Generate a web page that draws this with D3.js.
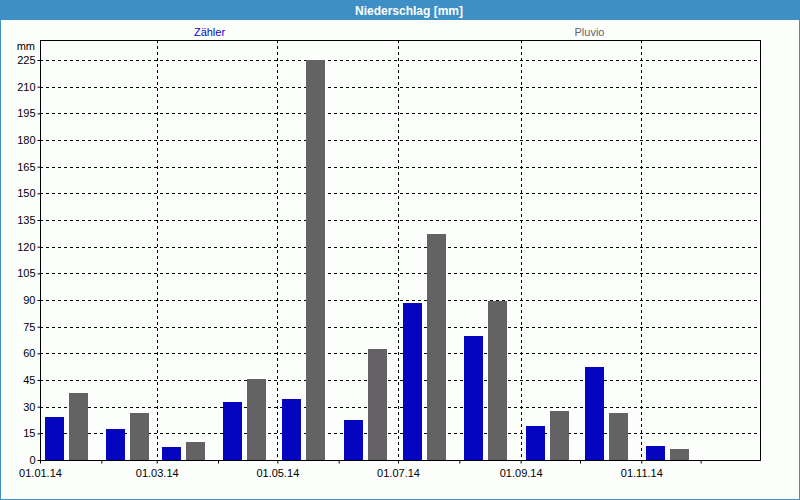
<!DOCTYPE html>
<html><head><meta charset="utf-8">
<script src="https://cdn.jsdelivr.net/npm/d3@7"></script>
<style>
html,body{margin:0;padding:0;background:#fcfefc;}
svg{display:block;}
text{font-family:"Liberation Sans",Arial,sans-serif;font-size:11px;}
</style></head>
<body>
<svg id="chart" width="800" height="500"></svg>
<script>
const months = ["2014-01-01","2014-02-01","2014-03-01","2014-04-01","2014-05-01","2014-06-01","2014-07-01","2014-08-01","2014-09-01","2014-10-01","2014-11-01","2014-12-01"];
const zaehler = [24.2, 17.4, 7.3, 32.6, 34.3, 22.5, 88.2, 69.7, 19.1, 52.2, 7.9, null];
const pluvio  = [37.6, 26.4, 10.1, 45.5, 225, 62.4, 127, 89.3, 27.5, 26.4, 6.2, null];
const yTicks = [0,15,30,45,60,75,90,105,120,135,150,165,180,195,210,225];
const xLabelDates = ["2014-01-01","2014-03-01","2014-05-01","2014-07-01","2014-09-01","2014-11-01"];
const seriesNames = ["Zähler","Pluvio"];
const colors = ["#0505c0","#646264"];

const parse = d3.utcParse("%Y-%m-%d");
const fmt = d3.utcFormat("%d.%m.%y");
const svg = d3.select("#chart");
const W=800,H=500;
const L=40,R=760,T=40,B=460;

// window frame + title bar
svg.append("rect").attr("x",0).attr("y",0).attr("width",W).attr("height",H).attr("fill","#fcfefc");
svg.append("rect").attr("x",0.5).attr("y",0.5).attr("width",W-1).attr("height",H-1).attr("fill","none").attr("stroke","#3d8fc5");
svg.append("rect").attr("x",0).attr("y",0).attr("width",W).attr("height",20).attr("fill","#3d8fc5");
svg.append("text").attr("x",409).attr("y",15).attr("text-anchor","middle").attr("fill","#fff")
  .style("font-weight","bold").style("font-size","12px").text("Niederschlag [mm]");

const x = d3.scaleUtc().domain([parse("2014-01-01"), parse("2014-12-31")]).range([L,R]);
const y = d3.scaleLinear().domain([0,236.25]).range([B,T]);

// horizontal grid
svg.append("g").selectAll("line").data(yTicks.filter(v=>v>0)).join("line")
  .attr("x1",L).attr("x2",R).attr("y1",d=>Math.round(y(d))+0.5).attr("y2",d=>Math.round(y(d))+0.5)
  .attr("stroke","#000").attr("stroke-dasharray","3,3");
// vertical grid
svg.append("g").selectAll("line").data(xLabelDates.slice(1).map(parse)).join("line")
  .attr("x1",d=>Math.round(x(d))+0.5).attr("x2",d=>Math.round(x(d))+0.5).attr("y1",T).attr("y2",B)
  .attr("stroke","#000").attr("stroke-dasharray","3,3");

// bars
const bw=19, off=5, gap=5;
[zaehler,pluvio].forEach((arr,si)=>{
  svg.append("g").selectAll("rect").data(arr.map((v,i)=>({v,d:parse(months[i])})).filter(o=>o.v!=null)).join("rect")
    .attr("x",o=>Math.round(x(o.d))+off+si*(bw+gap))
    .attr("width",bw)
    .attr("y",o=>Math.round(y(o.v)))
    .attr("height",o=>B-Math.round(y(o.v)))
    .attr("fill",colors[si]);
});

// plot border
svg.append("rect").attr("x",L+0.5).attr("y",T+0.5).attr("width",R-L).attr("height",B-T)
  .attr("fill","none").attr("stroke","#000");

// y axis labels
const yAxis = d3.axisLeft(y).tickValues(yTicks).tickSize(3).tickPadding(2).tickFormat(d3.format("d"));
const ga = svg.append("g").attr("transform",`translate(${L+0.5},0)`).call(yAxis);
ga.select(".domain").remove();
ga.selectAll("text").style("font-family","'Liberation Sans',Arial,sans-serif").style("font-size","11px").attr("fill","#000");
ga.selectAll("line").attr("stroke","#000");
svg.append("text").attr("x",35).attr("y",50).attr("text-anchor","end").text("mm");

// x axis: month ticks, bi-monthly labels
const xAxis = d3.axisBottom(x).tickValues(months.map(parse)).tickSize(3).tickPadding(6)
  .tickFormat(d=> xLabelDates.includes(d3.utcFormat("%Y-%m-%d")(d)) ? fmt(d) : "");
const gx = svg.append("g").attr("transform",`translate(0,${B+0.5})`).call(xAxis);
gx.select(".domain").remove();
gx.selectAll("text").style("font-family","'Liberation Sans',Arial,sans-serif").style("font-size","11px").attr("fill","#000");
gx.selectAll("line").attr("stroke","#000");

// legend
svg.append("text").attr("x",209.5).attr("y",36).attr("text-anchor","middle").attr("fill",colors[0]).text(seriesNames[0]);
svg.append("text").attr("x",589.5).attr("y",36).attr("text-anchor","middle").attr("fill",colors[1]).text(seriesNames[1]);
</script>
</body></html>
